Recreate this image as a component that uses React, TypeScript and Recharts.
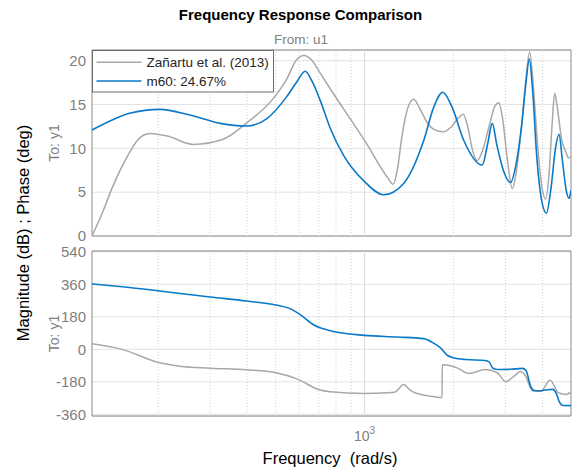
import { CartesianGrid, Line, LineChart, ReferenceArea, ReferenceLine, XAxis, YAxis } from "recharts";

const FONT = '"Liberation Sans", Arial, Helvetica, sans-serif';
const REF_COLOR = "#a8a8a8";
const FIT_COLOR = "#0a79c8";
const TICK_COLOR = "#808080";
const FRAME_COLOR = "#8a8a8a";

const seriesNames = ["Zañartu et al. (2013)", "m60: 24.67%"];

const freqRange: [number, number] = [119.4, 5000];
const magRange: [number, number] = [0, 21.22];
const phaseRange: [number, number] = [-369.4, 543.9];
const magTicks = [0, 5, 10, 15, 20];
const phaseTicks = [-360, -180, 0, 180, 360, 540];
const decadeTicks = [1000];
const minorFreqs = [200, 300, 400, 500, 600, 700, 800, 900, 2000, 3000, 4000];

// magnitude (dB)
const refMagFreq = [119.4, 130, 141, 158, 170, 187, 215, 263, 330, 399, 491, 545, 585, 624, 665, 707, 765, 1000, 1200, 1249, 1290, 1340, 1400, 1467, 1540, 1640, 1760, 1853, 1960, 2080, 2158, 2230, 2320, 2407, 2500, 2640, 2760, 2849, 2930, 3050, 3163, 3270, 3400, 3520, 3622, 3720, 3850, 3990, 4105, 4200, 4320, 4403, 4500, 4650, 4800, 4900, 5000];
const refMag = [0, 2.8, 5.8, 9.2, 10.9, 11.7, 11.4, 10.45, 11.0, 12.9, 15.7, 17.9, 20.0, 20.6, 20.0, 18.6, 16.8, 10.9, 6.6, 5.9, 7.5, 11.5, 14.6, 15.6, 14.5, 12.8, 12.0, 11.9, 12.4, 13.5, 13.9, 12.6, 9.8, 8.6, 9.6, 12.5, 14.8, 15.2, 13.5, 8.5, 5.4, 7.5, 12.5, 18.0, 21.0, 17.5, 10.5, 5.5, 4.2, 6.5, 13.0, 16.3, 14.5, 11.0, 9.6, 8.9, 9.1];

const fitMagFreq = [119.4, 141, 160, 203, 256, 325, 399, 467, 545, 590, 629, 665, 707, 765, 849, 1000, 1160, 1356, 1586, 1715, 1839, 1978, 2168, 2503, 2610, 2706, 2800, 2950, 3121, 3250, 3400, 3520, 3613, 3700, 3830, 3980, 4127, 4280, 4430, 4553, 4680, 4830, 4923, 5000];
const fitMag = [12.1, 13.3, 14.0, 14.45, 13.8, 12.85, 12.55, 13.4, 15.9, 17.6, 18.8, 17.6, 15.5, 12.3, 9.2, 6.2, 4.7, 6.0, 10.9, 14.7, 16.4, 14.7, 10.9, 8.1, 10.5, 12.85, 10.5, 7.5, 6.1, 8.0, 12.5, 17.5, 20.2, 17.0, 9.0, 4.0, 2.6, 5.5, 10.0, 11.6, 8.5, 5.0, 4.3, 5.2];

// phase (deg)
const refPhaseFreq = [119.4, 152, 199, 237, 300, 399, 501, 590, 707, 765, 1000, 1191, 1270, 1356, 1430, 1506, 1650, 1830, 1832, 2058, 2254, 2560, 2814, 3010, 3200, 3376, 3510, 3698, 3948, 4250, 4530, 4800, 5000];
const refPhase = [30, -2, -72, -94, -105, -114, -130, -164, -226, -235, -245, -241, -236, -195, -228, -245, -258, -267, -86, -103, -134, -112, -130, -180, -150, -123, -149, -230, -233, -171, -240, -250, -238];

const fitPhaseFreq = [119.4, 160, 199, 300, 399, 501, 560, 605, 671, 765, 1000, 1288, 1586, 1715, 1800, 1904, 2000, 2200, 2560, 2640, 2720, 2830, 3121, 3420, 3520, 3650, 3760, 3900, 4150, 4330, 4450, 4560, 4700, 5000];
const fitPhase = [361, 342, 324, 289, 267, 245, 225, 192, 136, 103, 77, 68, 59, 33, 10, -33, -47, -57, -62, -70, -105, -112, -111, -106, -118, -205, -228, -230, -224, -222, -242, -290, -311, -312];

const toPoints = (f: number[], v: number[]) => f.map((x, i) => ({ f: x, v: v[i] }));

function DecadeTick({ x, y, payload }: any) {
  const exp = Math.round(Math.log10(payload.value));
  return (
    <text x={x} y={y + 25} textAnchor="middle" fill={TICK_COLOR} fontSize={14} fontFamily={FONT}>
      10
      <tspan dy={-7} fontSize={10}>{exp}</tspan>
    </text>
  );
}

type PanelProps = {
  height: number;
  margin: { top: number; right: number; bottom: number; left: number };
  yDomain: [number, number];
  yTicks: number[];
  refData: { f: number; v: number }[];
  fitData: { f: number; v: number }[];
  showFreqAxis?: boolean;
};

function BodePanel({ height, margin, yDomain, yTicks, refData, fitData, showFreqAxis }: PanelProps) {
  return (
    <LineChart width={574} height={height} margin={margin}>
      <CartesianGrid vertical={false} stroke="#e2e2e2" />
      {minorFreqs.map((f) => (
        <ReferenceLine key={f} x={f} stroke="#d2d2d2" strokeDasharray="1 2" />
      ))}
      <ReferenceLine x={1000} stroke="#dcdcdc" />
      <XAxis
        dataKey="f"
        type="number"
        scale="log"
        domain={freqRange}
        allowDataOverflow
        ticks={decadeTicks}
        interval={0}
        hide={!showFreqAxis}
        height={30}
        axisLine={false}
        tickLine={false}
        tickSize={0}
        tickMargin={0}
        tick={<DecadeTick />}
      />
      <YAxis
        type="number"
        domain={yDomain}
        ticks={yTicks}
        interval={0}
        allowDataOverflow
        width={32}
        axisLine={false}
        tickLine={false}
        tickSize={4}
        tickMargin={2}
        tick={{ fill: TICK_COLOR, fontSize: 15, fontFamily: FONT }}
      />
      <Line data={refData} dataKey="v" type="monotone" stroke={REF_COLOR} strokeWidth={1.5} dot={false} isAnimationActive={false} />
      <Line data={fitData} dataKey="v" type="monotone" stroke={FIT_COLOR} strokeWidth={1.6} dot={false} isAnimationActive={false} />
      <ReferenceArea
        x1={freqRange[0]}
        x2={freqRange[1]}
        y1={yDomain[0]}
        y2={yDomain[1]}
        fill="none"
        fillOpacity={0}
        stroke={FRAME_COLOR}
        strokeWidth={1}
      />
    </LineChart>
  );
}

export default function App() {
  return (
    <div style={{ position: "relative", width: 574, height: 469, background: "#fff", fontFamily: FONT }}>
      <style>{"body{margin:0}"}</style>
      <div style={{ position: "absolute", left: 0, top: 0 }}>
        <BodePanel
          height={248}
          margin={{ top: 50, right: 3, bottom: 12, left: 60 }}
          yDomain={magRange}
          yTicks={magTicks}
          refData={toPoints(refMagFreq, refMag)}
          fitData={toPoints(fitMagFreq, fitMag)}
        />
      </div>
      <div style={{ position: "absolute", left: 0, top: 240 }}>
        <BodePanel
          height={229}
          margin={{ top: 11, right: 3, bottom: 23, left: 60 }}
          yDomain={phaseRange}
          yTicks={phaseTicks}
          refData={toPoints(refPhaseFreq, refPhase)}
          fitData={toPoints(fitPhaseFreq, fitPhase)}
          showFreqAxis
        />
      </div>
      <svg width={574} height={469} style={{ position: "absolute", left: 0, top: 0, pointerEvents: "none" }} fontFamily={FONT}>
        <text x={300.5} y={19.5} textAnchor="middle" fontSize={15} fontWeight="bold" fill="#000">
          Frequency Response Comparison
        </text>
        <text x={301} y={43.5} textAnchor="middle" fontSize={13.5} fill={TICK_COLOR}>
          From: u1
        </text>
        <text transform="translate(59,143) rotate(-90)" textAnchor="middle" fontSize={14} fill={TICK_COLOR}>
          To: y1
        </text>
        <text transform="translate(59,333.5) rotate(-90)" textAnchor="middle" fontSize={14} fill={TICK_COLOR}>
          To: y1
        </text>
        <text transform="translate(28.5,233) rotate(-90)" textAnchor="middle" fontSize={16.5} fill="#000">
          Magnitude (dB) ; Phase (deg)
        </text>
        <text x={330} y={464} textAnchor="middle" fontSize={16.5} fill="#000" style={{ whiteSpace: "pre" }}>
          {"Frequency  (rad/s)"}
        </text>
        {/* legend */}
        <g transform="translate(92,50)">
          <rect x={0.5} y={0.5} width={181} height={41.5} fill="#fff" stroke="#6e6e6e" strokeWidth={1} />
          <line x1={4.5} x2={49.5} y1={12.3} y2={12.3} stroke={REF_COLOR} strokeWidth={1.5} />
          <text x={54.5} y={17} fontSize={13.5} fill="#262626">{seriesNames[0]}</text>
          <line x1={4.5} x2={49.5} y1={31} y2={31} stroke={FIT_COLOR} strokeWidth={1.6} />
          <text x={54.5} y={35.7} fontSize={13.5} fill="#262626">{seriesNames[1]}</text>
        </g>
      </svg>
    </div>
  );
}
